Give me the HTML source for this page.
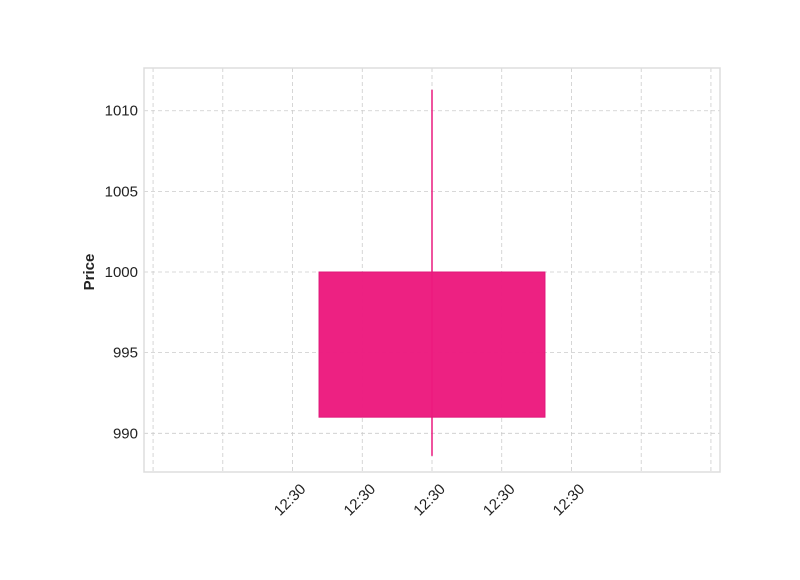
<!DOCTYPE html>
<html><head><meta charset="utf-8"><style>
body{margin:0;background:#fff;width:800px;height:575px;overflow:hidden}
text{font-family:"Liberation Sans",sans-serif}
</style></head><body>
<svg id="chart" width="800" height="575" xmlns="http://www.w3.org/2000/svg"></svg>
<script>
const categories = ["12:30"];
const opens = [1000];
const closes = [991];
const highs = [1011.3];
const lows = [988.6];
const yTicks = [990, 995, 1000, 1005, 1010];
const xTickPositions = [-4, -3, -2, -1, 0, 1, 2, 3, 4];
const xTickLabels = ["", "", "12:30", "12:30", "12:30", "12:30", "12:30", "", ""];
const bodyWidth = 3.24;

const L=144,R=720,T=68,B=472;
const xMin=-4.13,xMax=4.13,yMin=987.6,yMax=1012.65;
const sx=v=>L+(v-xMin)/(xMax-xMin)*(R-L);
const sy=v=>B-(v-yMin)/(yMax-yMin)*(B-T);
const svg=document.getElementById('chart');
const NS='http://www.w3.org/2000/svg';
function mk(tag,attrs,parent){const e=document.createElementNS(NS,tag);for(const k in attrs)e.setAttribute(k,attrs[k]);(parent||svg).appendChild(e);return e;}

const grid=mk('g',{});


xTickPositions.forEach(v=>{const l=mk('line',{x1:sx(v),x2:sx(v),y1:T,y2:B,stroke:'#ccc','stroke-dasharray':'4,3','stroke-width':0.8},grid);

});
yTicks.forEach(v=>{const l=mk('line',{x1:L,x2:R,y1:sy(v),y2:sy(v),stroke:'#ccc','stroke-dasharray':'4,3','stroke-width':0.8},grid);

});

const frame=mk('rect',{x:L,y:T,width:R-L,height:B-T,fill:'none',stroke:'#ddd','stroke-width':1.5});



yTicks.forEach(v=>{const t=mk('text',{x:L-6,y:sy(v)+5,'text-anchor':'end','font-size':15,fill:'#222'});t.textContent=v;

});
xTickPositions.forEach((v,i)=>{if(!xTickLabels[i])return;const x=sx(v)+14,y=490;
const t=mk('text',{x:x,y:y,'text-anchor':'end','font-size':15,fill:'#222',transform:`rotate(-45 ${x} ${y})`});t.textContent=xTickLabels[i];

});

const yt=mk('text',{x:94,y:272,'text-anchor':'middle','font-size':15,'font-weight':'bold',fill:'#222',transform:'rotate(-90 94 272)'});yt.textContent='Price';



categories.forEach((c,i)=>{const cx=sx(0);
const w=mk('line',{x1:cx,x2:cx,y1:sy(highs[i]),y2:sy(lows[i]),stroke:'#ea1a7f','stroke-width':1.5});


const top=Math.max(opens[i],closes[i]),bot=Math.min(opens[i],closes[i]);
const b=mk('rect',{x:sx(-bodyWidth/2),y:sy(top),width:sx(bodyWidth/2)-sx(-bodyWidth/2),height:sy(bot)-sy(top),fill:'#ec1a7e','fill-opacity':0.97,stroke:'#e0177a','stroke-width':1});

});
</script>
</body></html>
